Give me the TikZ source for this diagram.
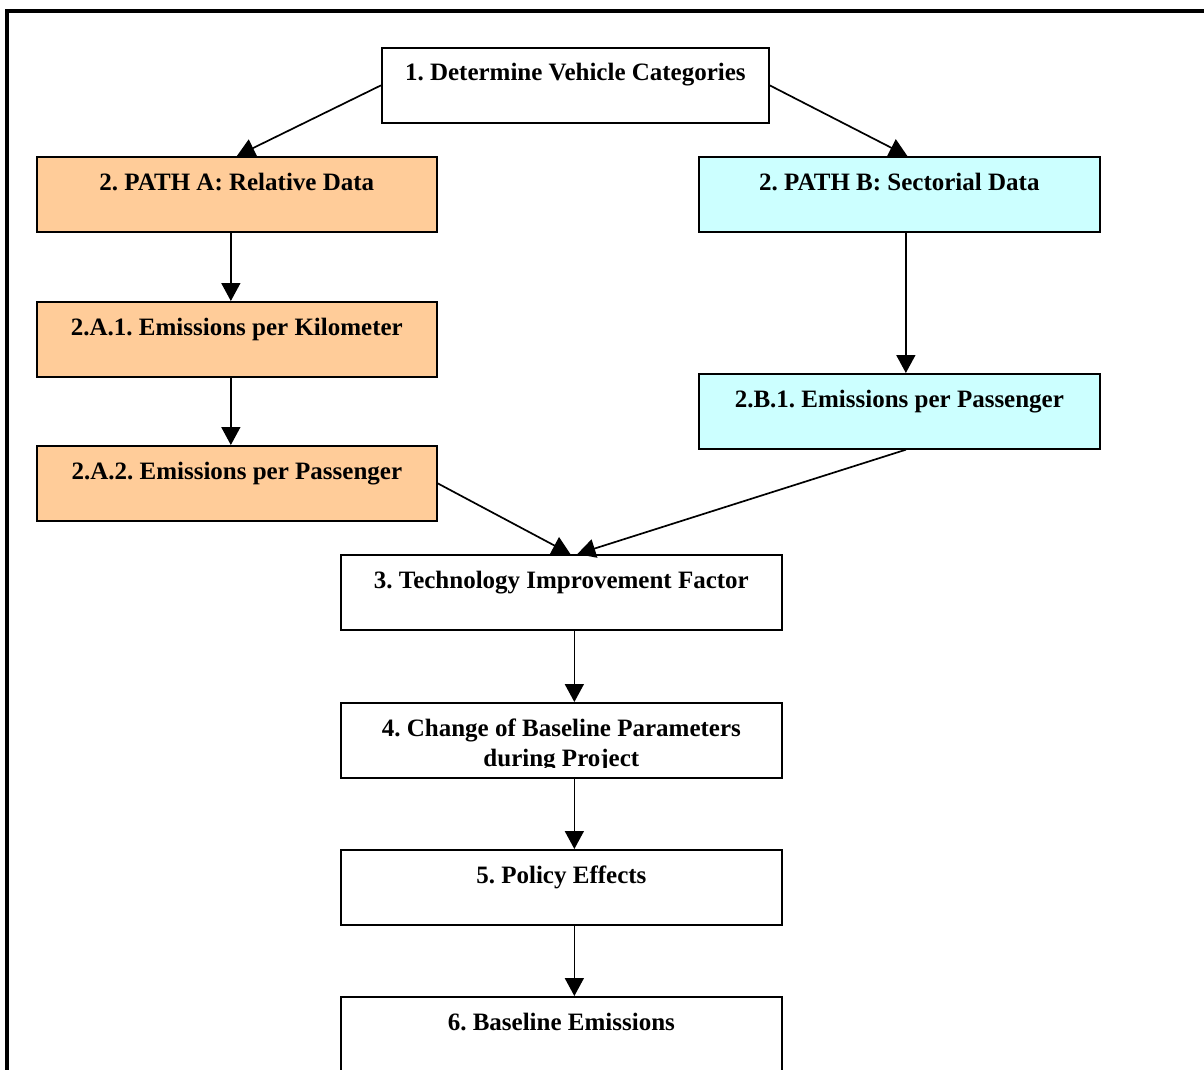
\documentclass[tikz,border=0pt]{standalone}
\usepackage{fontspec}
\setmainfont{Liberation Serif}
\usetikzlibrary{arrows.meta}
\definecolor{pathA}{HTML}{FFCC99}
\definecolor{pathB}{HTML}{CCFFFF}
\tikzset{
  box/.style={draw=black, line width=1.7pt, rectangle, minimum width=#1, minimum height=75pt, inner sep=0pt, anchor=north west},
  box/.default=400pt,
  lbl/.style={anchor=base, inner sep=0pt, font=\fontsize{25}{30}\selectfont\bfseries},
  conn/.style={line width=1.7pt, -{Triangle[width=19pt,length=18pt]}},
}
\begin{document}
\frenchspacing
\begin{tikzpicture}[x=1pt,y=-1pt]
\useasboundingbox (0,0) rectangle (1204,1070);
% frame
\draw[line width=4pt] (7,1075) -- (7,11.5) -- (1210,11.5);
% boxes
\node[box=387pt] (b1) at (381,47) {};
\node[box, fill=pathA] (b2a) at (36,156) {};
\node[box=401pt, fill=pathB] (b2b) at (698,156) {};
\node[box, fill=pathA] (b2a1) at (36,301) {};
\node[box=401pt, fill=pathB] (b2b1) at (698,373) {};
\node[box, fill=pathA] (b2a2) at (36,445) {};
\node[box=441pt] (b3) at (340,554) {};
\node[box=441pt] (b4) at (340,702) {};
\node[box=441pt] (b5) at (340,849) {};
\node[box=441pt, minimum height=80pt] (b6) at (340,996) {};
% labels
\node[lbl] (t1) at ([yshift=-34]b1.north) {1. Determine Vehicle Categories};
\node[lbl] (t2a) at ([yshift=-34]b2a.north) {2. PATH A: Relative Data};
\node[lbl] (t2b) at ([yshift=-34]b2b.north) {2. PATH B: Sectorial Data};
\node[lbl] (t2a1) at ([yshift=-34]b2a1.north) {2.A.1. Emissions per Kilometer};
\node[lbl] (t2b1) at ([yshift=-34]b2b1.north) {2.B.1. Emissions per Passenger};
\node[lbl] (t2a2) at ([yshift=-34]b2a2.north) {2.A.2. Emissions per Passenger};
\node[lbl] (t3) at ([yshift=-34]b3.north) {3. Technology Improvement Factor};
\node[lbl] (t4) at ([yshift=-34]b4.north) {4. Change of Baseline Parameters};
\begin{scope}
\clip (340,740) rectangle (781,767);
\node[lbl] (t4b) at ([yshift=-64]b4.north) {during Project};
\end{scope}
\node[lbl] (t5) at ([yshift=-34]b5.north) {5. Policy Effects};
\node[lbl] (t6) at ([yshift=-34]b6.north) {6. Baseline Emissions};
% connectors
\draw[conn] (b1.west) -- (b2a.north);
\draw[conn] (b1.east) -- ([xshift=8]b2b.north);
\draw[conn] ([xshift=-6]b2a.south) -- ([xshift=-6]b2a1.north);
\draw[conn] ([xshift=-6]b2a1.south) -- ([xshift=-6]b2a2.north);
\draw[conn] ([xshift=6.5]b2b.south) -- ([xshift=6.5]b2b1.north);
\draw[conn] (b2a2.east) -- ([xshift=9]b3.north);
\draw[conn] ([xshift=6.5]b2b1.south) -- ([xshift=16]b3.north);
\draw[conn] ([xshift=13]b3.south) -- ([xshift=13]b4.north);
\draw[conn] ([xshift=13]b4.south) -- ([xshift=13]b5.north);
\draw[conn] ([xshift=13]b5.south) -- ([xshift=13]b6.north);
\end{tikzpicture}
\end{document}
